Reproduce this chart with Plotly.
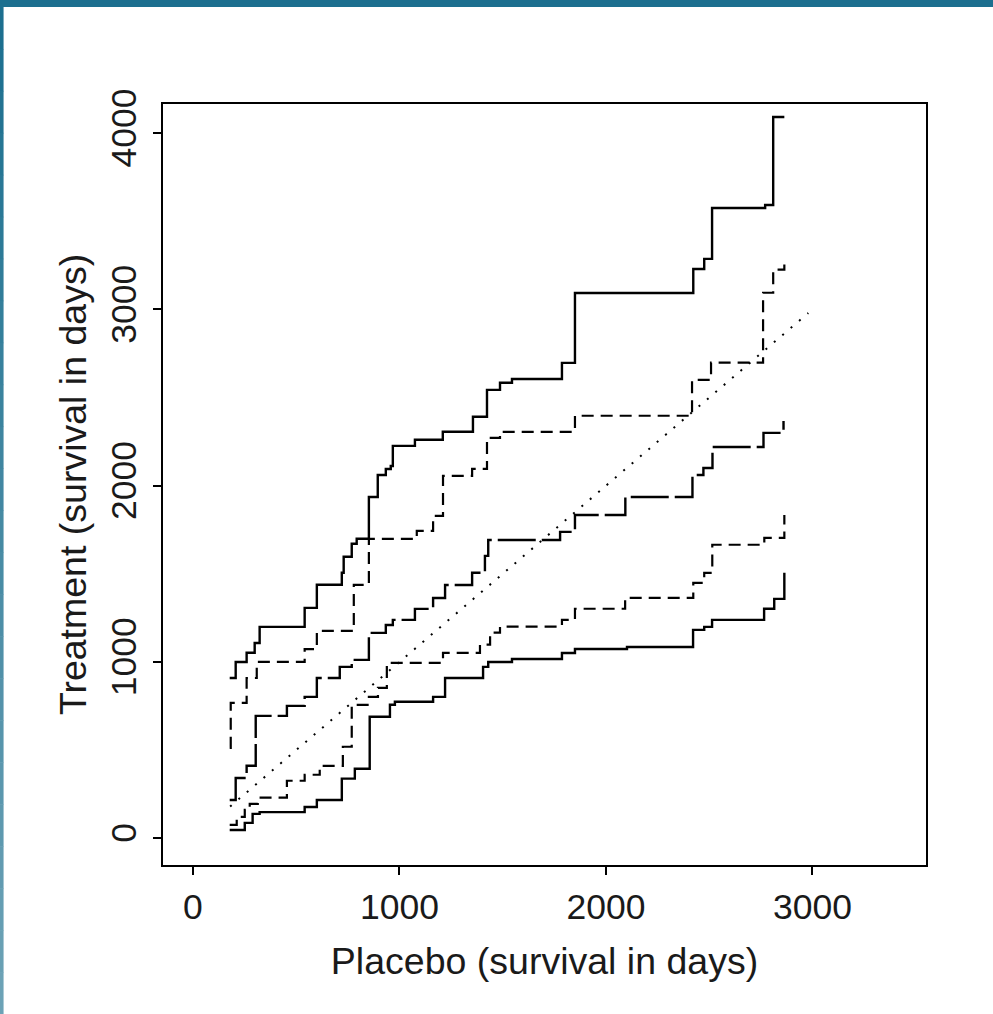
import plotly.graph_objects as go

# ---- data (days) ----
upper_solid_x = [178, 207, 260, 299, 323, 541, 600, 721, 730, 769, 793, 852, 895, 934, 958, 968,
                 1075, 1210, 1356, 1424, 1487, 1545, 1787, 1850, 2423, 2476, 2514, 2771, 2810, 2864]
upper_solid_y = [909, 1000, 1052, 1108, 1199, 1307, 1438, 1506, 1597, 1671, 1699, 1936, 2061, 2095, 2112, 2226,
                 2261, 2306, 2391, 2544, 2584, 2606, 2697, 3094, 3230, 3287, 3576, 3593, 4092, 4092]

upper_dashed_x = [178, 183, 260, 309, 541, 600, 779, 852, 1084, 1163, 1211, 1352, 1424, 1487,
                  1850, 2417, 2509, 2761, 2810, 2864]
upper_dashed_y = [513, 768, 909, 1000, 1073, 1176, 1438, 1698, 1744, 1829, 2056, 2096, 2272, 2306,
                  2397, 2601, 2698, 3095, 3226, 3283]

middle_x = [178, 207, 260, 304, 455, 541, 600, 711, 769, 852, 934, 968, 1075, 1163, 1221, 1352,
            1414, 1430, 1778, 1850, 2094, 2419, 2472, 2516, 2763, 2860]
middle_y = [217, 342, 411, 694, 751, 802, 909, 972, 1012, 1165, 1210, 1239, 1301, 1363, 1437, 1506,
            1602, 1692, 1738, 1834, 1936, 2061, 2101, 2220, 2300, 2368]

lower_dashed_x = [178, 212, 251, 275, 314, 455, 541, 614, 726, 769, 852, 896, 939, 1211, 1390, 1439,
                  1487, 1787, 1850, 2093, 2423, 2476, 2515, 2767, 2864]
lower_dashed_y = [76, 121, 161, 195, 230, 326, 360, 411, 519, 757, 802, 853, 995, 1052, 1098, 1166,
                  1200, 1239, 1302, 1364, 1449, 1506, 1665, 1704, 1834]

lower_solid_x = [178, 251, 289, 323, 541, 600, 721, 784, 856, 954, 978, 1163, 1221, 1405, 1430, 1545,
                 1787, 1850, 2102, 2422, 2476, 2514, 2766, 2815, 2864]
lower_solid_y = [47, 87, 138, 148, 177, 217, 338, 394, 689, 757, 774, 802, 909, 972, 1000, 1017,
                 1051, 1074, 1085, 1182, 1199, 1239, 1302, 1358, 1506]

identity_x = [180, 2980]
identity_y = [180, 2980]

x_ticks = [0, 1000, 2000, 3000]
y_ticks = [0, 1000, 2000, 3000, 4000]

FONT = "Liberation Sans, Arial, Helvetica, sans-serif"

fig = go.Figure()


def add_step(x, y, dash, width):
    fig.add_trace(go.Scatter(x=x, y=y, mode="lines",
                             line=dict(shape="hv", color="black", width=width, dash=dash),
                             showlegend=False, hoverinfo="skip"))


add_step(upper_solid_x, upper_solid_y, "solid", 2.4)
add_step(upper_dashed_x, upper_dashed_y, "12px,7px", 2.2)
add_step(middle_x, middle_y, "38px,6px", 2.4)
add_step(lower_dashed_x, lower_dashed_y, "12px,7px", 2.2)
add_step(lower_solid_x, lower_solid_y, "solid", 2.4)
fig.add_trace(go.Scatter(x=identity_x, y=identity_y, mode="lines",
                         line=dict(color="black", width=2, dash="2px,9px"),
                         showlegend=False, hoverinfo="skip"))

# decorative slide frame (blue band on top and left)
L, R, T, B = 163.3, 925.7, 104.0, 865.0
W, H = 993, 1014
pw, ph = R - L, B - T


def px2x(px):
    return (px - L) / pw


def py2y(py):
    return (B - py) / ph


shapes = [dict(type="rect", xref="paper", yref="paper", x0=px2x(0), x1=px2x(W), y0=py2y(7), y1=py2y(0),
               fillcolor="#1c6f8f", line=dict(width=0), layer="above")]
n = 24
c0 = (28, 111, 143)
c1 = (108, 162, 182)
for i in range(n):
    t = i / (n - 1)
    col = "rgb(%d,%d,%d)" % tuple(round(a + (b - a) * t) for a, b in zip(c0, c1))
    y_top = 7 + (H - 7) * i / n
    y_bot = 7 + (H - 7) * (i + 1) / n
    shapes.append(dict(type="rect", xref="paper", yref="paper", x0=px2x(0), x1=px2x(4),
                       y0=py2y(y_bot + 0.5), y1=py2y(y_top), fillcolor=col, line=dict(width=0), layer="above"))

axis_common = dict(showline=True, mirror=True, linecolor="black", linewidth=2, showgrid=False, zeroline=False,
                   ticks="outside", ticklen=8, tickwidth=2, tickcolor="black",
                   tickfont=dict(family=FONT, size=35.5, color="#1a1a1a"))

fig.update_layout(
    width=W, height=H,
    margin=dict(l=L, r=W - R, t=T, b=H - B, pad=0),
    paper_bgcolor="white", plot_bgcolor="white",
    shapes=shapes,
    xaxis=dict(range=[-145, 3550], tickvals=x_ticks, ticktext=[str(v) for v in x_ticks],
               ticklabelstandoff=1,
               title=dict(text="Placebo (survival in days)", font=dict(family=FONT, size=37.5, color="#1a1a1a"),
                          standoff=22),
               **axis_common),
    yaxis=dict(range=[-152, 4166], tickvals=y_ticks, ticktext=[str(v) for v in y_ticks], tickangle=-90,
               ticklabelstandoff=3,
               title=dict(text="Treatment (survival in days)", font=dict(family=FONT, size=37.5, color="#1a1a1a"),
                          standoff=6),
               **axis_common),
)

fig.write_html("out.html",
               config={"displayModeBar": False},
               post_script="document.body.style.margin='0';document.body.style.padding='0';"
                           "document.documentElement.style.overflow='hidden';")
